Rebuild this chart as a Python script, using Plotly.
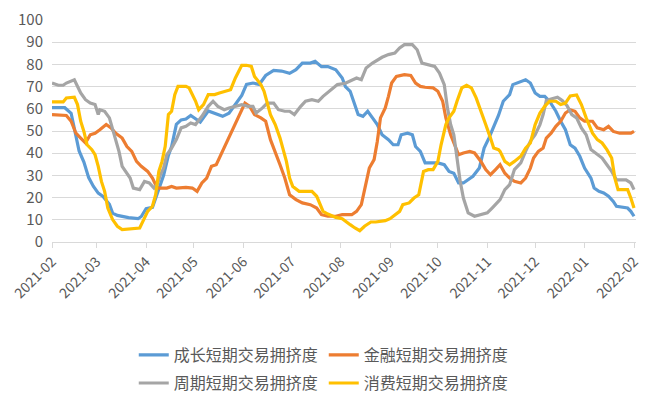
import pandas as pd
import plotly.graph_objects as go

base_date = "2021-02-01"
names = ["成长短期交易拥挤度", "金融短期交易拥挤度", "周期短期交易拥挤度", "消费短期交易拥挤度"]
colors = ["#5B9BD5", "#ED7D31", "#A5A5A5", "#FFC000"]
legend_rows = ["legend", "legend", "legend2", "legend2"]

# day offsets from 2021-02-01 and values for each series
growth_days = [0, 8, 12, 15, 17, 20, 23, 26, 29, 32, 36, 38, 41, 48, 54, 56, 59, 63, 65, 67, 70, 73, 75, 78, 81, 84, 87, 90,
               93, 98, 102, 107, 111, 115, 119, 122, 126, 130, 134, 139, 144, 149, 153, 157, 162, 165, 169, 173, 178, 182,
               184, 187, 190, 192, 195, 198, 201, 204, 207, 211, 214, 217, 219, 223, 226, 228, 231, 234, 238, 242, 246,
               249, 252, 255, 258, 261, 264, 268, 271, 274, 277, 280, 283, 287, 289, 294, 297, 300, 303, 306, 309, 312,
               316, 319, 322, 325, 328, 331, 334, 338, 340, 343, 346, 349, 352, 354, 358, 361, 363, 365]
growth_vals = [60.5, 60.5, 58, 48, 41, 36, 29, 25, 22, 20.5, 17, 13, 12, 11, 10.5, 11.5, 15, 15.6, 20, 24, 30, 39, 43, 53, 55,
               55.4, 57, 55.5, 54, 59, 58, 56.6, 58, 62, 66, 71, 71.6, 71, 75, 77.3, 77, 76, 77.6, 80.6, 80.6, 81.4, 79, 79,
               77.6, 73.9, 70, 67.9, 61.9, 57.4, 56.6, 58.9, 55.9, 52.9, 48.3, 46.1, 43.8, 43.8, 48.3, 49, 48.3, 43, 40.8,
               35.6, 35.6, 35.6, 34.8, 31.8, 31, 26.6, 26.6, 28, 29.6, 33.3, 42.3, 46.8, 52, 57, 63.4, 66.4, 70.9, 72.4,
               73.1, 71.6, 67.1, 65.6, 65.6, 63.4, 58.9, 54.4, 50.6, 43.8, 42.3, 38.6, 33.3, 28.8, 24.3, 22.8, 22.1, 20.6,
               18.3, 16.1, 15.6, 15.3, 13.8, 11.6]

finance_days = [0, 9, 12, 15, 18, 21, 24, 27, 30, 34, 37, 40, 44, 47, 50, 53, 56, 60, 63, 66, 69, 72, 75, 78, 84, 88, 91, 94,
                97, 100, 103, 107, 110, 113, 116, 119, 121, 124, 127, 131, 134, 137, 140, 143, 146, 149, 153, 157, 162, 166,
                169, 173, 178, 182, 188, 191, 194, 196, 199, 202, 204, 206, 209, 211, 213, 216, 221, 225, 228, 231, 234,
                239, 242, 245, 247, 250, 253, 255, 258, 262, 265, 269, 272, 275, 278, 281, 284, 287, 290, 294, 297, 300,
                302, 305, 308, 310, 313, 316, 319, 322, 325, 328, 331, 334, 339, 342, 346, 349, 352, 356, 360, 363, 365]
finance_vals = [57.4, 57, 54.4, 49, 46.8, 44.6, 48.3, 49, 50.6, 52.9, 51.4, 49, 46.8, 43, 40.8, 36.3, 34.1, 31.8, 28.8, 24.3,
                24.3, 24.3, 25, 24.3, 24.6, 24.3, 22.8, 26.6, 28.8, 34.1, 34.8, 40.8, 45.3, 50.6, 54.4, 59.6, 62.6, 61.1,
                57.4, 55.9, 54.4, 46.1, 40.8, 34.8, 28.8, 21.3, 19.1, 17.6, 16.8, 15.3, 12.3, 11.6, 11.6, 12.3, 12.3, 13.8,
                16.8, 22.8, 33.3, 37.1, 45.3, 55.9, 60.4, 65.6, 71.6, 74.6, 75.4, 75, 71.6, 70.1, 69.7, 69.4, 67.9, 63.4,
                55.9, 48.3, 42.3, 39.3, 40.1, 40.8, 40.1, 36.3, 32.6, 30.3, 32.5, 34.8, 31, 28.8, 27.3, 26.6, 28.8, 33.3,
                37.8, 40.8, 42.3, 46.8, 49, 52.1, 54.4, 58.1, 59.6, 58.9, 55.9, 54.4, 54.4, 51.4, 50.6, 52.1, 49.8, 49, 49,
                49, 49.8]

cycle_days = [0, 4, 7, 9, 14, 16, 18, 21, 24, 27, 29, 30, 33, 36, 38, 40, 42, 44, 47, 49, 51, 55, 58, 61, 64, 66, 68, 70, 72,
              75, 78, 81, 84, 87, 90, 94, 98, 101, 104, 108, 111, 115, 119, 123, 126, 128, 132, 135, 139, 142, 146, 149,
              152, 156, 159, 163, 167, 170, 174, 179, 184, 187, 191, 194, 197, 201, 204, 207, 211, 215, 218, 221, 226,
              229, 232, 236, 240, 243, 246, 248, 250, 252, 254, 256, 258, 261, 265, 268, 273, 276, 279, 281, 284, 287,
              290, 294, 297, 300, 303, 306, 308, 310, 313, 317, 320, 323, 326, 329, 332, 335, 338, 342, 345, 348, 351,
              354, 357, 360, 363, 365]
cycle_vals = [71.6, 70.6, 70.6, 71.6, 73.1, 70.1, 67.1, 64.1, 62.6, 61.9, 57.4, 59.6, 58.9, 55.9, 50.6, 45.3, 40.8, 34.1, 31.1,
              28.8, 24.3, 23.6, 27.3, 26.6, 24.3, 25.8, 30.3, 33.3, 39.3, 42.3, 46.1, 51.4, 52.1, 53.6, 52.9, 56.6, 61.1,
              63.4, 61.1, 59.6, 60.4, 61.1, 61.9, 61.1, 61.1, 58.1, 60.4, 62.6, 62.6, 59.6, 58.9, 58.9, 57.4, 61.1, 63.4,
              64.1, 63.4, 65.6, 67.9, 70.9, 71.5, 72.4, 73.9, 73.1, 78.4, 80.6, 82.1, 83.2, 84.4, 85.1, 87.4, 88.9, 88.9,
              86.6, 80.6, 79.9, 79.1, 76.1, 70.9, 60.4, 52.9, 48.3, 37.8, 27.3, 19.8, 13.1, 11.6, 12.3, 13.1, 15.3, 17.6,
              19.1, 23.6, 25.8, 32.6, 35.6, 40.8, 45.3, 48.3, 52.9, 57.4, 63.7, 64.4, 65.2, 63.7, 61.4, 57.4, 55.9, 51.4,
              48.3, 41.6, 39.3, 37.8, 34.8, 31.8, 28, 28, 28, 26.6, 23.6]

consumer_days = [0, 7, 9, 14, 16, 18, 20, 22, 25, 27, 29, 31, 33, 35, 38, 41, 44, 48, 52, 55, 57, 60, 63, 65, 67, 69, 71, 73,
                 75, 77, 79, 84, 86, 88, 90, 92, 95, 98, 102, 105, 109, 112, 115, 117, 119, 122, 125, 127, 131, 133, 135,
                 137, 140, 143, 145, 147, 149, 151, 155, 159, 163, 166, 168, 170, 173, 178, 182, 185, 187, 190, 193, 196,
                 200, 203, 206, 209, 212, 215, 218, 220, 224, 227, 230, 233, 236, 239, 242, 244, 247, 249, 252, 254, 257,
                 260, 263, 266, 270, 272, 275, 277, 280, 281, 284, 287, 290, 294, 297, 300, 303, 306, 309, 312, 316, 319,
                 322, 325, 329, 332, 335, 339, 342, 345, 348, 351, 353, 355, 358, 361, 363, 365]
consumer_vals = [63.1, 63.1, 64.9, 65.2, 61.9, 54.4, 49.8, 43.8, 41.6, 39.3, 34.1, 27.3, 22.8, 15.3, 10.1, 7.1, 5.6, 5.9, 6.3,
                 6.3, 9.3, 13.8, 16.1, 21.3, 31.8, 36.3, 43.1, 57.4, 58.9, 66.4, 70.1, 70.1, 69.4, 66.4, 63.5, 59.6, 61.9,
                 66.4, 66.4, 67.1, 67.9, 68.6, 73.9, 76.9, 79.6, 79.6, 79.1, 74.6, 70.9, 67.9, 62.6, 57.4, 52.9, 46.8, 41.6,
                 36.3, 28.8, 25, 22.8, 22.8, 22.8, 20.6, 17.6, 13.8, 12.6, 11.1, 10.5, 8.6, 7.8, 6.3, 5.1, 7.1, 9, 9, 9.3,
                 9.6, 10.5, 12.3, 13.8, 16.8, 17.6, 19.8, 21.3, 31.8, 32.6, 32.6, 36.3, 43.8, 52.9, 55.9, 58.9, 63.4, 69.4,
                 70.6, 69.4, 64.9, 57.4, 52.9, 46.8, 42.3, 41.6, 40.8, 36.3, 34.8, 36.3, 38.6, 42.3, 44.6, 52.9, 58.1, 61.1,
                 63.4, 63.4, 61.9, 62.6, 65.8, 66.2, 61.9, 55.9, 49, 46.1, 44.6, 41.6, 37.8, 28.8, 23.6, 23.6, 23.6, 19.8,
                 15.3]

y_ticks = list(range(0, 101, 10))

series = [(growth_days, growth_vals), (finance_days, finance_vals),
          (cycle_days, cycle_vals), (consumer_days, consumer_vals)]

t0 = pd.Timestamp(base_date)
fig = go.Figure()
for name, color, lg, (days, vals) in zip(names, colors, legend_rows, series):
    x = [(t0 + pd.Timedelta(days=d)).strftime("%Y-%m-%d") for d in days]
    fig.add_trace(go.Scatter(x=x, y=vals, mode="lines", name=name, legend=lg,
                             line=dict(color=color, width=3.2, shape="linear")))

font_family = "Noto Sans CJK SC, Noto Sans, sans-serif"
legend_common = dict(orientation="h", xanchor="left", yanchor="top",
                     font=dict(size=16, color="#595959"),
                     entrywidth=145, entrywidthmode="pixels",
                     bgcolor="rgba(0,0,0,0)")
fig.update_layout(
    width=653, height=396,
    margin=dict(l=52, r=17, t=20, b=154, autoexpand=False),
    paper_bgcolor="white", plot_bgcolor="white",
    font=dict(family=font_family, color="#595959", size=14),
    showlegend=True,
    legend=dict(x=0.14, y=-0.432, **legend_common),
    legend2=dict(x=0.14, y=-0.559, **legend_common),
    xaxis=dict(type="date", range=["2021-02-01", "2022-02-02 06:00"],
               dtick="M1", tick0="2021-02-01", tickformat="%Y-%m", tickangle=-45,
               showgrid=False, showline=True, linecolor="#D9D9D9", linewidth=1,
               ticks="outside", ticklen=5, tickcolor="#D9D9D9",
               tickfont=dict(size=14, color="#595959"), zeroline=False, automargin=False),
    yaxis=dict(range=[0, 100], tickvals=y_ticks, showgrid=True, gridcolor="#D9D9D9", gridwidth=1,
               zeroline=False, showline=False, ticks="", ticklabelstandoff=8, automargin=False,
               tickfont=dict(size=15, color="#595959")),
)

fig.write_html("out.html", config={"displayModeBar": False},
               post_script="document.body.style.margin='0px';document.body.style.overflow='hidden';")
